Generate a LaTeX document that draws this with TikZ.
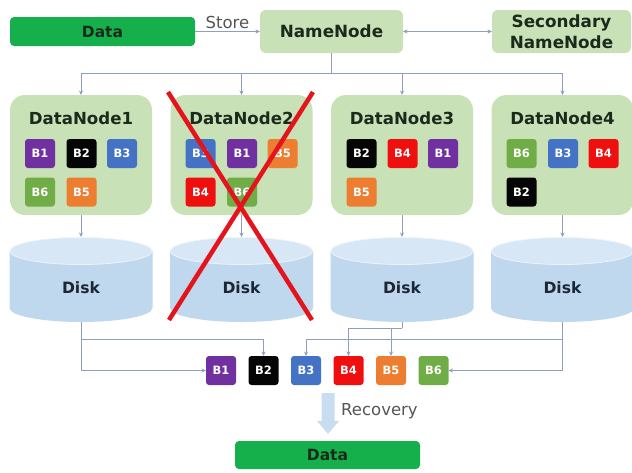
\documentclass[tikz,border=0pt]{standalone}
\usepackage{fontspec}
\setmainfont{DejaVu Sans}
\usetikzlibrary{arrows.meta}

\definecolor{datagreen}{HTML}{15B04C}
\definecolor{nodegreen}{HTML}{C8E1B6}
\definecolor{titletext}{HTML}{1B2A1B}
\definecolor{linecol}{HTML}{8E9FBD}
\definecolor{disktop}{HTML}{D7E7F5}
\definecolor{diskbody}{HTML}{BFD8EE}
\definecolor{disktext}{HTML}{1C2733}
\definecolor{labeltext}{HTML}{555555}
\definecolor{recfill}{HTML}{C9DDF0}
\definecolor{crossred}{HTML}{E3141C}
\definecolor{bOne}{HTML}{7030A0}
\definecolor{bTwo}{HTML}{050505}
\definecolor{bThree}{HTML}{4472C4}
\definecolor{bFour}{HTML}{F00F0F}
\definecolor{bFive}{HTML}{ED7D31}
\definecolor{bSix}{HTML}{70AD47}

\tikzset{
  tip/.tip={Stealth[length=4.5pt,width=4pt]},
  arr/.style={draw=linecol, line width=0.8pt, -tip},
  biarr/.style={draw=linecol, line width=0.8pt, tip-tip},
  plainline/.style={draw=linecol, line width=0.8pt},
  databox/.style={fill=datagreen, rounded corners=4pt, minimum width=185pt,
    minimum height=29pt, inner sep=0pt, outer sep=0pt, text=titletext,
    font=\bfseries\fontsize{15.5}{18}\selectfont},
  namebox/.style={fill=nodegreen, rounded corners=6pt, minimum height=43pt,
    inner sep=0pt, outer sep=0pt, text=titletext, align=center,
    font=\bfseries\fontsize{16.8}{21}\selectfont},
  dnbox/.style={fill=nodegreen, rounded corners=15pt, minimum width=142pt,
    minimum height=120pt, inner sep=0pt, outer sep=0pt},
  dntitle/.style={text=titletext, inner sep=0pt,
    font=\bfseries\fontsize{16.6}{20}\selectfont},
  diskframe/.style={minimum width=143pt, minimum height=85pt, inner sep=0pt, outer sep=0pt},
  disklabel/.style={text=disktext, inner sep=0pt,
    font=\bfseries\fontsize{15.6}{18}\selectfont},
  blk/.style={rounded corners=3pt, minimum width=30pt, minimum height=29pt,
    inner sep=0pt, outer sep=0pt, text=white,
    font=\bfseries\fontsize{11.5}{12}\selectfont},
  k1/.style={blk, fill=bOne},
  k2/.style={blk, fill=bTwo},
  k3/.style={blk, fill=bThree},
  k4/.style={blk, fill=bFour},
  k5/.style={blk, fill=bFive},
  k6/.style={blk, fill=bSix},
  plainlabel/.style={text=labeltext, inner sep=1pt,
    font=\fontsize{16.5}{20}\selectfont},
  redcross/.style={draw=crossred, line width=4.5pt},
}

\begin{document}
\begin{tikzpicture}[x=1pt, y=-1pt]
\useasboundingbox (0,0) rectangle (632,472);

% ---- top row: data, name node, secondary name node
\node[databox] (datain) at (102.5,31.5) {Data};
\node[namebox, minimum width=143pt] (nn) at (331.5,31.5) {NameNode};
\node[namebox, minimum width=139pt] (snn) at (561.5,31.5) {Secondary\\NameNode};

\draw[arr] (datain.east) -- node[plainlabel, above, yshift=1pt] (store) {Store} (nn.west);
\draw[biarr] (nn.east) -- (snn.west);

% ---- data nodes
\foreach \i/\x in {1/81, 2/241.5, 3/402, 4/562.5}{
  \node[dnbox] (dn\i) at (\x,155) {};
  \node[dntitle] (dn\i t) at (\x,118) {DataNode\i};
}

% blocks held by each data node
\node[k1] (d1b1) at (40,153.5) {B1};
\node[k2] (d1b2) at (81.5,153.5) {B2};
\node[k3] (d1b3) at (122,153.5) {B3};
\node[k6] (d1b6) at (40,192) {B6};
\node[k5] (d1b5) at (81.5,192) {B5};

\node[k3] (d2b3) at (200.5,153.5) {B3};
\node[k1] (d2b1) at (242,153.5) {B1};
\node[k5] (d2b5) at (282.5,153.5) {B5};
\node[k4] (d2b4) at (200.5,192) {B4};
\node[k6] (d2b6) at (242,192) {B6};

\node[k2] (d3b2) at (361.5,153.5) {B2};
\node[k4] (d3b4) at (402.5,153.5) {B4};
\node[k1] (d3b1) at (443,153.5) {B1};
\node[k5] (d3b5) at (361.5,192) {B5};

\node[k6] (d4b6) at (521.5,153.5) {B6};
\node[k3] (d4b3) at (563,153.5) {B3};
\node[k4] (d4b4) at (603.5,153.5) {B4};
\node[k2] (d4b2) at (521.5,192) {B2};

% name node fans out to every data node
\coordinate (bus) at (331.5,73);
\draw[plainline] (nn.south) -- (bus);
\foreach \i in {1,...,4}{
  \draw[arr] (bus) -| (dn\i.north);
}

% ---- disks
\foreach \i/\x in {1/81, 2/241.5, 3/402, 4/562.5}{
  \begin{scope}[shift={(\x,0)}]
    \fill[diskbody] (-71.5,251) -- (-71.5,308)
      arc[start angle=180, end angle=0, x radius=71.5, y radius=14]
      -- (71.5,251) -- cycle;
    \fill[disktop, draw=white!55!disktop, line width=0.8pt]
      (0,251) ellipse[x radius=71, y radius=13.5];
  \end{scope}
  \node[diskframe] (disk\i) at (\x,279.5) {};
  \node[disklabel] (disk\i t) at (\x,288) {Disk};
  \draw[arr] (dn\i.south) -- (disk\i.north);
}

% ---- recovered blocks
\node[k1] (r1) at (221,370.5) {B1};
\node[k2] (r2) at (263.5,370.5) {B2};
\node[k3] (r3) at (306,370.5) {B3};
\node[k4] (r4) at (348.5,370.5) {B4};
\node[k5] (r5) at (391,370.5) {B5};
\node[k6] (r6) at (433.5,370.5) {B6};

\coordinate (j1) at (81,339);
\coordinate (j3) at (402,328);
\coordinate (j4) at (562.5,339);
\draw[arr] (disk1.south) |- (r1.west);
\draw[arr] (j1) -| (r2.north);
\draw[plainline] (disk3.south) -- (j3);
\draw[arr] (j3) -| (r4.north);
\draw[arr] (j3) -| (r5.north);
\draw[plainline] (disk4.south) -- (j4);
\draw[arr] (j4) -| (r3.north);
\draw[arr] (j4) |- (r6.east);

% ---- recovery
\node[databox, minimum width=185pt, minimum height=28pt] (dataout) at (327.5,455) {Data};
\fill[recfill] (321.5,393) -- (334.5,393) -- (334.5,421) -- (339,421)
  -- (328,434) -- (317,421) -- (321.5,421) -- cycle;
\node[plainlabel, anchor=west] (recovery) at (340,411) {Recovery};

% ---- failed data node
\draw[redcross] (168,92) -- (312,320);
\draw[redcross] (313,92) -- (169,320);
\end{tikzpicture}
\end{document}
